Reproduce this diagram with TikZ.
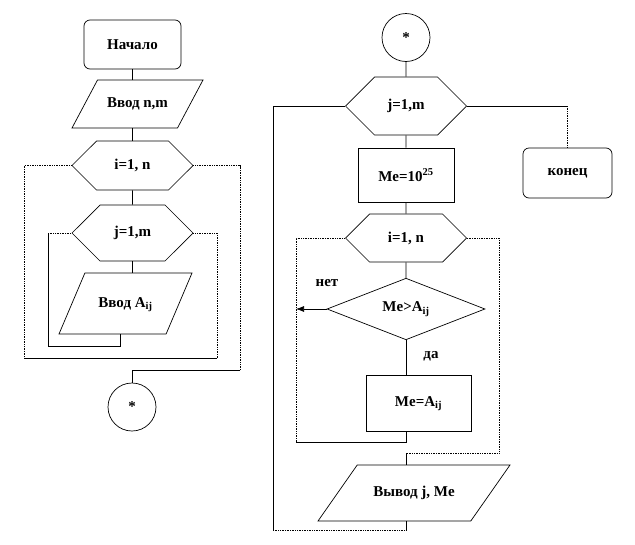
\documentclass[tikz,border=0pt]{standalone}
\usepackage{fontspec}
\setmainfont{Liberation Serif}
\usetikzlibrary{shapes.geometric,shapes.symbols,arrows.meta}
\begin{document}
\begin{tikzpicture}
[x=1pt,y=-1pt,
  font=\fontsize{15}{17}\selectfont\bfseries,
  nodedecorate/.style={draw,line width=0.7pt,inner sep=0pt},
  termdecorate/.style={nodedecorate,shape=rectangle,rounded corners=6pt},
  iodecorate/.style={nodedecorate,shape=trapezium,trapezium stretches body,
    text height=10pt,text depth=3pt},
  loopdecorate/.style={nodedecorate,shape=signal,signal to=east and west,minimum width=121pt},
  procdecorate/.style={nodedecorate,shape=rectangle},
  decidedecorate/.style={nodedecorate,shape=diamond},
  joindecorate/.style={nodedecorate,shape=circle,minimum size=48pt},
  linedecorate/.style={-,line width=0.7pt},
  dotdecorate/.style={-,line width=0.7pt,densely dotted}]
\useasboundingbox (0,0) rectangle (635,544);
% left column: nodes
\node (start) at (132.5,44.5) [termdecorate,minimum width=97pt,minimum height=49pt] {Начало};
\node (inputnm) at (137.5,104) [iodecorate,trapezium left angle=62,trapezium right angle=118,
  minimum width=131pt,inner ysep=17.5pt] {Ввод n,m};
\node (ihexL) at (132.5,165.5) [loopdecorate,minimum height=49pt] {i=1, n};
\node (jhexL) at (132.5,233) [loopdecorate,minimum height=56pt] {j=1,m};
\node (inputA) at (125.5,303.5) [iodecorate,trapezium left angle=67,trapezium right angle=113,
  minimum width=133pt,inner ysep=24pt] {Ввод A\textsubscript{ij}};
\node (joinL) at (132,407) [joindecorate] {*};
% right column: nodes
\node (joinR) at (406,37.5) [joindecorate] {*};
\node (jhexR) at (406,106) [loopdecorate,minimum height=58pt] {j=1,m};
\node (theend) at (567.5,173) [termdecorate,minimum width=89pt,minimum height=50pt] {конец};
\node (initMe) at (406,175) [procdecorate,minimum width=96pt,minimum height=54pt] {Me=10\textsuperscript{25}};
\node (ihexR) at (406,238) [loopdecorate,minimum height=48pt] {i=1, n};
\node (cmp) at (406,309) [decidedecorate,minimum width=158pt,minimum height=60pt] {Me>A\textsubscript{ij}};
\node (setMe) at (418.5,403.5) [procdecorate,minimum width=105pt,minimum height=56pt] {Me=A\textsubscript{ij}};
\node (output) at (414,493) [iodecorate,trapezium left angle=55,trapezium right angle=125,
  minimum width=192pt,inner ysep=21.5pt] {Вывод j, Me};
\node (no) at (327,283) {нет};
\node (yes) at (431,356) {да};
% corners of the loop lines
\coordinate (lcornerA) at (24,358);
\coordinate (lcornerB) at (217,358);
\coordinate (lcornerC) at (240,370);
\coordinate (lcornerD) at (48,346);
\coordinate (rcornerA) at (296,442);
\coordinate (rcornerB) at (499,453);
\coordinate (rcornerC) at (273,530);
% left column: lines
\draw[linedecorate] (start.south) -- (start.south |- inputnm.north);
\draw[linedecorate] (ihexL.north |- inputnm.south) -- (ihexL.north);
\draw[linedecorate] (jhexL.south) -- (jhexL.south |- inputA.north);
\path (ihexL) edge[linedecorate] (jhexL);
\draw[dotdecorate] (ihexL.west) -| (lcornerA);
\draw[linedecorate] (lcornerA) -- (lcornerB);
\draw[dotdecorate] (lcornerB) |- (jhexL.east);
\draw[dotdecorate] (ihexL.east) -| (lcornerC);
\draw[linedecorate] (lcornerC) -| (joinL.north);
\draw[linedecorate] ([xshift=-5.5pt]inputA.south) |- (lcornerD) -- (lcornerD |- jhexL.west);
\draw[dotdecorate] (lcornerD |- jhexL.west) -- (jhexL.west);
% right column: lines
\path
(joinR) edge[linedecorate] (jhexR)
(jhexR) edge[linedecorate] (initMe)
(initMe) edge[linedecorate] (ihexR)
(ihexR) edge[linedecorate] (cmp);
\draw[linedecorate] (cmp.south) -- (cmp.south |- setMe.north);
\draw[linedecorate,-{Latex[length=8pt,width=6pt]}] (cmp.west) -- (cmp.west -| rcornerA);
\draw[linedecorate] (setMe.south -| cmp.south) |- (rcornerA);
\draw[dotdecorate] (rcornerA) |- (ihexR.west);
\draw[dotdecorate] (ihexR.east) -| (rcornerB) -- (rcornerB -| cmp.south);
\draw[linedecorate] (rcornerB -| cmp.south) -- (output.north -| cmp.south);
\draw[linedecorate] (jhexR.west) -| (rcornerC);
\draw[dotdecorate] (rcornerC) -- (rcornerC -| cmp.south);
\draw[linedecorate] (rcornerC -| cmp.south) -- (output.south -| cmp.south);
\draw[linedecorate] (jhexR.east) -- (jhexR.east -| theend.north);
\draw[dotdecorate] (jhexR.east -| theend.north) -- (theend.north);
\end{tikzpicture}
\end{document}
